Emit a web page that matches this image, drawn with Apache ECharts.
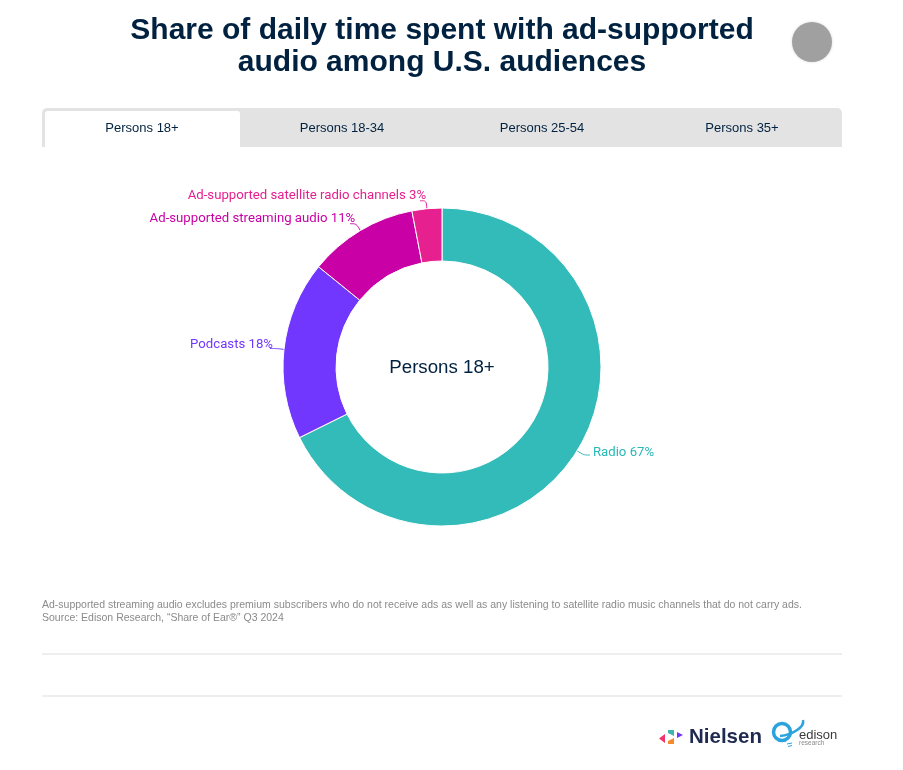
<!DOCTYPE html>
<html>
<head>
<meta charset="utf-8">
<style>
  html, body { margin: 0; padding: 0; background: #fff; }
  #chart { width: 903px; height: 770px; }
</style>
<script src="https://cdn.jsdelivr.net/npm/echarts@6/dist/echarts.min.js"></script>
</head>
<body>
<div id="chart"></div>
<script>
// Data
const categories = ['Radio', 'Podcasts', 'Ad-supported streaming audio', 'Ad-supported satellite radio channels'];
const values = [67, 18, 11, 3];
const colors = ['#32BBB9', '#7237FF', '#C800A5', '#E6208F'];
const labelColors = ['#28B8B6', '#7237FF', '#C800A5', '#E6208F'];
const tabs = ['Persons 18+', 'Persons 18-34', 'Persons 25-54', 'Persons 35+'];
const titleLines = ['Share of daily time spent with ad-supported', 'audio among U.S. audiences'];
const notes = [
  'Ad-supported streaming audio excludes premium subscribers who do not receive ads as well as any listening to satellite radio music channels that do not carry ads.',
  'Source: Edison Research, “Share of Ear®” Q3 2024'
];

const NAVY = '#00213F';
const SANS = '"Liberation Sans", Arial, sans-serif';

// nudges for the pie labels, same order as categories
const labelShift = [[-2, -2], [8, -4], [10, -5], [11, -5]];

function text(x, y, str, size, color, extra) {
  return {
    type: 'text', x, y,
    style: Object.assign({ text: str, fontFamily: SANS, fontSize: size, fill: color, align: 'center', verticalAlign: 'middle' }, extra)
  };
}

function rule(y) {
  return { type: 'rect', shape: { x: 42, y, width: 800, height: 2 }, style: { fill: '#EEEEF0' } };
}

function tri(points, fill) {
  return { type: 'polygon', shape: { points }, style: { fill } };
}

// Decorations around the pie
const graphics = [
  text(442, 31, titleLines[0], 30, NAVY, { fontWeight: 'bold' }),
  text(442, 63, titleLines[1], 30, NAVY, { fontWeight: 'bold' }),
  { type: 'circle', shape: { cx: 812, cy: 42, r: 20 }, style: { fill: '#A0A0A0', shadowBlur: 3, shadowColor: 'rgba(0,0,0,0.15)' } },

  // tab bar
  { type: 'rect', shape: { x: 42, y: 108, width: 800, height: 39, r: [5, 5, 0, 0] }, style: { fill: '#E3E3E3' } },
  { type: 'rect', shape: { x: 45, y: 111, width: 195, height: 36, r: [3, 3, 0, 0] }, style: { fill: '#fff' } },
  ...tabs.map((t, i) => text(142 + i * 200, 128, t, 13, NAVY)),

  text(442, 368, tabs[0], 18.7, NAVY),

  // footnotes
  ...notes.map((n, i) => text(42, 605 + i * 13, n, 10.5, '#8A8A8A', { align: 'left' })),
  rule(653),
  rule(695),

  // Nielsen logo
  tri([[665, 734], [665, 743], [659, 738.5]], '#F0356B'),
  tri([[668, 730], [674, 730], [674, 736], [668, 733]], '#3FB5AE'),
  tri([[668, 741], [674, 738], [674, 744], [668, 744]], '#F58A2E'),
  tri([[677, 732], [683, 735], [677, 738]], '#7237FF'),
  text(689, 737, 'Nielsen', 20.5, '#1E2A4F', { align: 'left', fontWeight: 'bold' }),

  // Edison logo
  { type: 'circle', shape: { cx: 782, cy: 732, r: 8.5 }, style: { fill: 'none', stroke: '#2BA3DC', lineWidth: 3.5 } },
  { type: 'bezierCurve', shape: { x1: 780, y1: 736, x2: 803, y2: 720, cpx1: 792, cpy1: 735, cpx2: 805, cpy2: 727 }, style: { fill: 'none', stroke: '#2BA3DC', lineWidth: 2.5 } },
  { type: 'line', shape: { x1: 787, y1: 744, x2: 792, y2: 743 }, style: { stroke: '#2BA3DC', lineWidth: 1 } },
  { type: 'line', shape: { x1: 788, y1: 746.5, x2: 792, y2: 745.5 }, style: { stroke: '#2BA3DC', lineWidth: 1 } },
  text(799, 735, 'edison', 13, '#3A3A3A', { align: 'left' }),
  text(799, 743, 'research', 6.5, '#8A8A8A', { align: 'left' })
];

const chart = echarts.init(document.getElementById('chart'), null, { renderer: 'canvas' });

chart.setOption({
  backgroundColor: '#fff',
  animation: false,
  graphic: { elements: graphics },
  series: [{
    type: 'pie',
    center: [442, 367],
    radius: [106, 159],
    startAngle: 90,
    clockwise: true,
    avoidLabelOverlap: false,
    itemStyle: { borderColor: '#fff', borderWidth: 1 },
    label: {
      show: true,
      position: 'outside',
      fontFamily: 'Roboto, sans-serif',
      fontSize: 13.2,
      formatter: p => `${p.name} ${p.value}%`
    },
    labelLine: { show: true, length: 8, length2: 6, smooth: true, lineStyle: { width: 1 } },
    labelLayout: p => ({ dx: labelShift[p.dataIndex][0], dy: labelShift[p.dataIndex][1] }),
    data: categories.map((name, i) => ({
      name,
      value: values[i],
      itemStyle: { color: colors[i] },
      label: { color: labelColors[i] },
      labelLine: { lineStyle: { color: labelColors[i] } }
    }))
  }]
});
</script>
</body>
</html>
